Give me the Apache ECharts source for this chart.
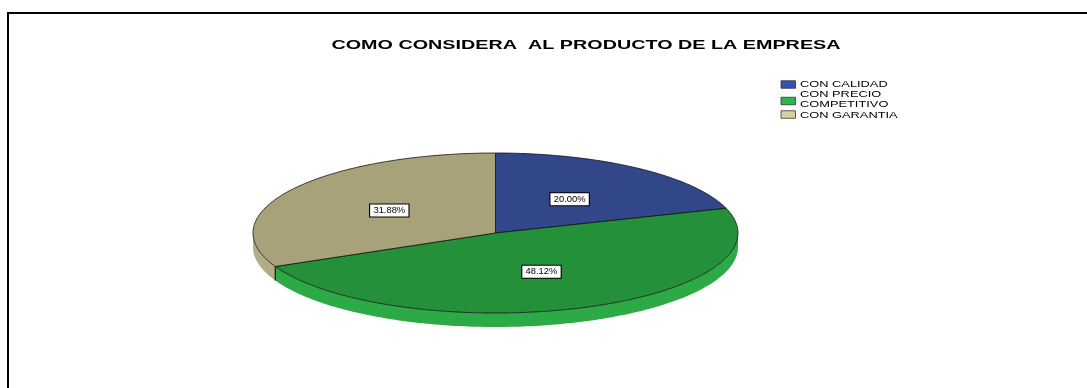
<!DOCTYPE html>
<html>
<head>
<meta charset="utf-8">
<script src="https://cdn.jsdelivr.net/npm/echarts@6/dist/echarts.min.js"></script>
<style>
html,body{margin:0;padding:0;background:#fff;}
#chart{width:1087px;height:388px;}
</style>
</head>
<body>
<div id="chart"></div>
<script>
// ---- data ----
const titleText = 'COMO CONSIDERA  AL PRODUCTO DE LA EMPRESA';
const categories = ['CON CALIDAD', 'CON PRECIO COMPETITIVO', 'CON GARANTIA'];
const legendLabels = ['CON CALIDAD', 'CON PRECIO\nCOMPETITIVO', 'CON GARANTIA'];
const values = [20.00, 48.12, 31.88];

// ---- styles / layout ----
const topColors = ['#32478a', '#24913a', '#a8a27b'];
const sideColors = ['#2a3c78', '#2baa45', '#b3ad87'];
const legendColors = ['#3553b4', '#2db54b', '#d6d1a0'];
const CX = 495.5, CY = 233, RX = 242.5, RY = 80, DEPTH = 14, LABEL_F = 0.52;
const legendTextY = [84.5, 99, 115.5];
const legendBoxY = [84.5, 101, 114.5];

const total = values.reduce((a, b) => a + b, 0);
function pt(t, dy) { return [CX + RX * Math.sin(t), CY - RY * Math.cos(t) + (dy || 0)]; }
function arc(a0, a1, dy) {
  const pts = [];
  const n = Math.max(2, Math.ceil(Math.abs(a1 - a0) / (Math.PI / 180)));
  for (let k = 0; k <= n; k++) pts.push(pt(a0 + (a1 - a0) * k / n, dy));
  return pts;
}

function makeRender(i) {
  return function (params, api) {
    let before = 0;
    for (let j = 0; j < i; j++) before += values[j];
    const v = api.value(0);
    const a0 = before / total * Math.PI * 2;
    const a1 = (before + v) / total * Math.PI * 2;
    const children = [];
    // side wall (front half only)
    const vs = Math.max(a0, Math.PI / 2), ve = Math.min(a1, Math.PI * 3 / 2);
    if (vs < ve) {
      const pts = arc(vs, ve, 0).concat(arc(ve, vs, DEPTH));
      children.push({
        type: 'polygon', z2: 1,
        shape: { points: pts },
        style: { fill: sideColors[i], stroke: null }
      });
      [a0, a1].forEach(function (t) {
        if (t > Math.PI / 2 && t < Math.PI * 3 / 2) {
          const p = pt(t, 0), q = pt(t, DEPTH);
          children.push({
            type: 'line', z2: 2,
            shape: { x1: p[0], y1: p[1], x2: q[0], y2: q[1] },
            style: { stroke: '#111', lineWidth: 0.8 }
          });
        }
      });
    }
    // top face
    children.push({
      type: 'polygon', z2: 10,
      shape: { points: [[CX, CY]].concat(arc(a0, a1, 0)) },
      style: { fill: topColors[i], stroke: '#111', lineWidth: 0.8, lineJoin: 'round' }
    });
    // label
    const mid = (a0 + a1) / 2;
    children.push({
      type: 'text', z2: 100,
      x: CX + RX * LABEL_F * Math.sin(mid),
      y: CY - RY * LABEL_F * Math.cos(mid),
      scaleX: 1.1,
      style: {
        text: v.toFixed(2) + '%',
        x: 0, y: 0,
        align: 'center', verticalAlign: 'middle',
        font: '8.5px "Liberation Sans", Arial, sans-serif',
        fill: '#000',
        backgroundColor: '#fff',
        borderColor: '#000', borderWidth: 1,
        padding: [2, 3, 1, 3]
      }
    });
    return { type: 'group', children: children };
  };
}

const series = categories.map(function (name, i) {
  return {
    type: 'custom',
    name: name,
    coordinateSystem: 'none',
    data: [[values[i]]],
    renderItem: makeRender(i),
    silent: true
  };
});

const graphics = [
  { type: 'rect', shape: { x: 8, y: 13, width: 1200, height: 500 },
    style: { fill: null, stroke: '#000', lineWidth: 2 }, z: 0 },
  { type: 'text', x: 586, y: 45.5, scaleX: 1.52,
    style: { text: titleText, x: 0, y: 0, align: 'center', verticalAlign: 'middle',
      font: 'bold 13px "Liberation Sans", Arial, sans-serif', fill: '#000' } }
];
legendLabels.forEach(function (lab, i) {
  graphics.push({ type: 'rect', shape: { x: 781, y: legendBoxY[i] - 3.75, width: 14.5, height: 7.5 },
    style: { fill: legendColors[i], stroke: '#333', lineWidth: 0.8 } });
  graphics.push({ type: 'text', x: 800, y: legendTextY[i], scaleX: 1.35,
    style: { text: lab, x: 0, y: 0, align: 'left', verticalAlign: 'middle',
      font: '9.5px "Liberation Sans", Arial, sans-serif', lineHeight: 10, fill: '#000' } });
});

const chart = echarts.init(document.getElementById('chart'), null, { renderer: 'canvas' });
chart.setOption({
  backgroundColor: '#fff',
  animation: false,
  graphic: graphics,
  series: series
});
</script>
</body>
</html>
